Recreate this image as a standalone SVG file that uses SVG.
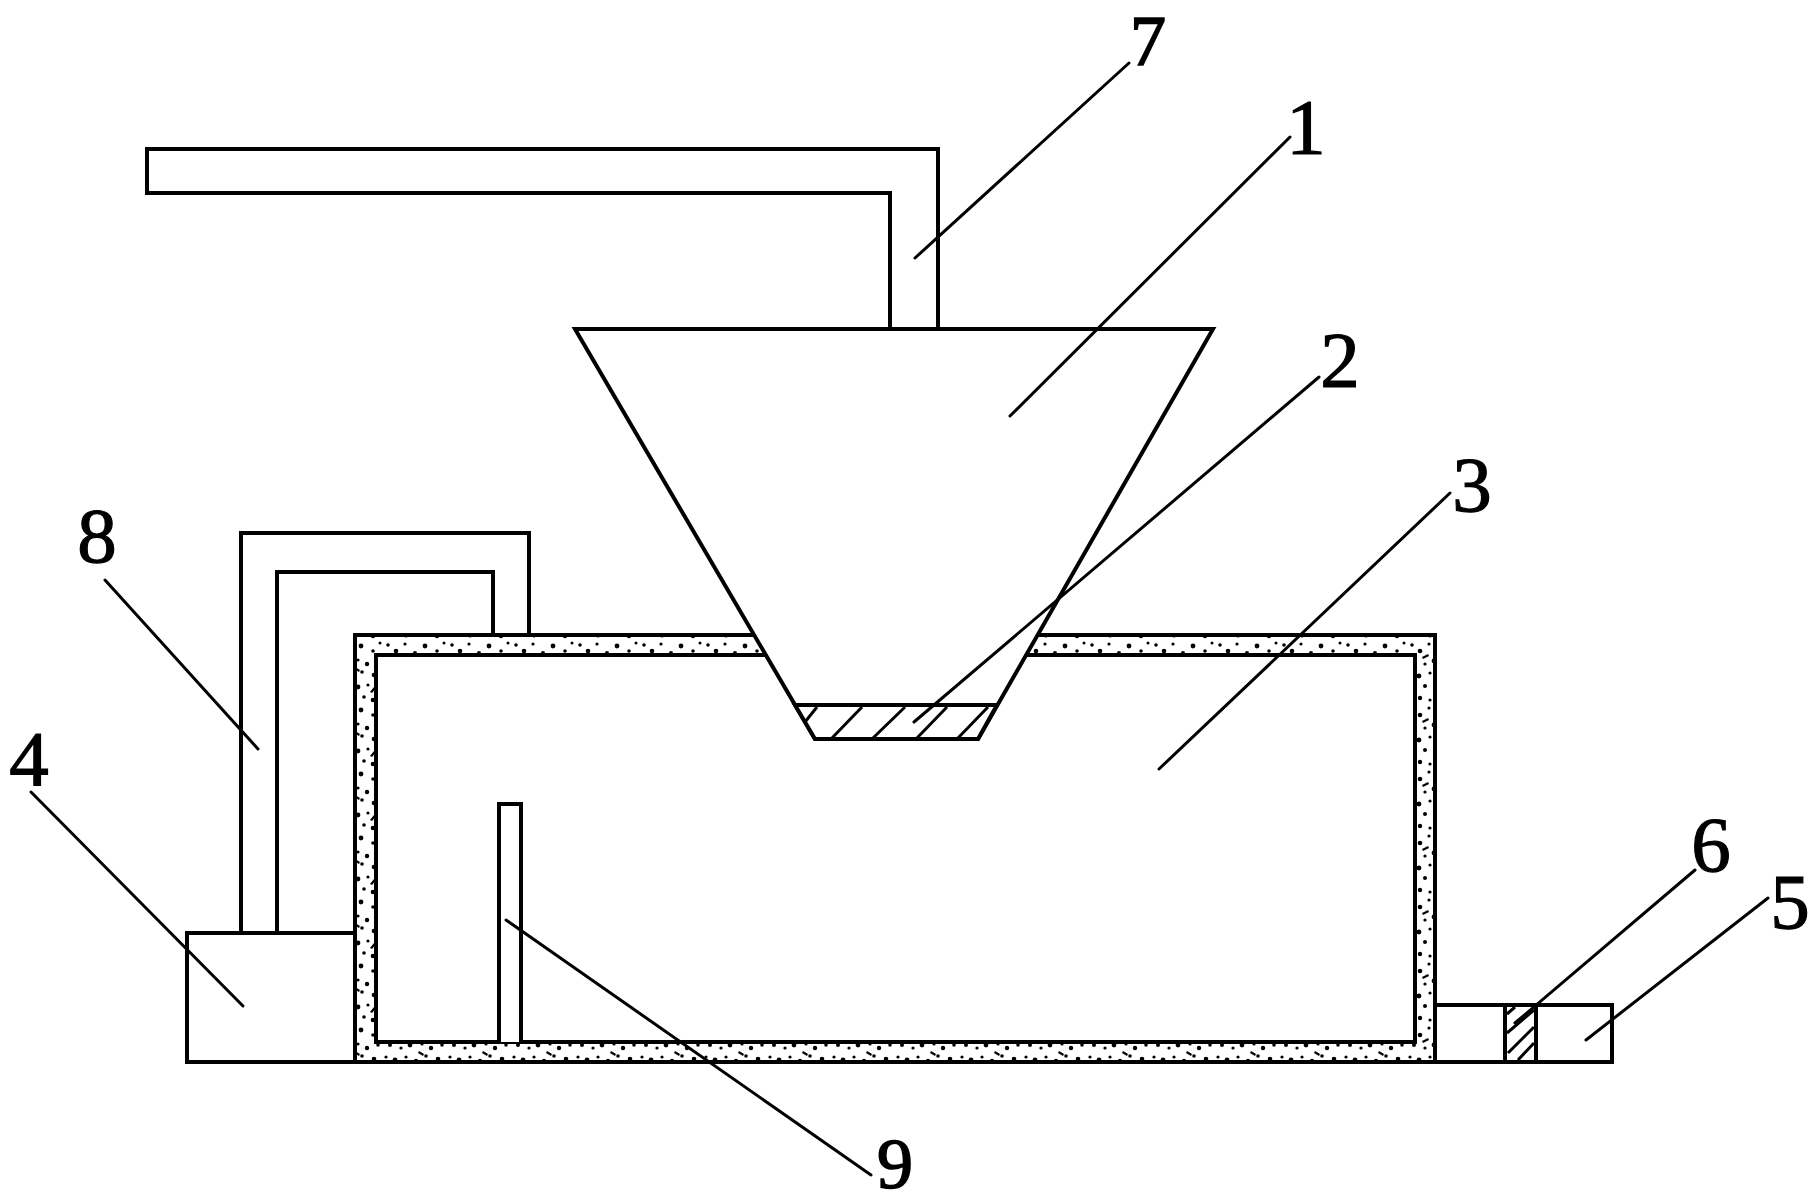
<svg xmlns="http://www.w3.org/2000/svg" width="1817" height="1204" viewBox="0 0 1817 1204">
<style>
.o{fill:none;stroke:#000;stroke-width:4;stroke-linejoin:miter}
.w{fill:#fff;stroke:#000;stroke-width:4}
.l{stroke:#000;stroke-width:3;fill:none;stroke-linecap:round}
.h{stroke:#000;stroke-width:3;fill:none}
.t{font-family:"Liberation Serif","Times New Roman",serif;font-size:79px;font-weight:400;fill:#000;stroke:#000;stroke-width:1.2;text-anchor:middle}
.s{font-size:72px;stroke-width:1.6}
</style>
<defs>
<pattern id="stipple" width="64" height="64" patternUnits="userSpaceOnUse">
<rect width="64" height="64" fill="#fff"/>
<g fill="#000">
<circle cx="4" cy="5" r="1.8"/><circle cx="12" cy="11" r="2.3"/><circle cx="21" cy="4" r="1.6"/><circle cx="31" cy="13" r="2"/><circle cx="41" cy="6" r="2.4"/><circle cx="53" cy="11" r="1.8"/><circle cx="60" cy="3" r="1.5"/>
<circle cx="6" cy="21" r="2"/><circle cx="17" cy="24" r="1.6"/><circle cx="26" cy="21" r="2.4"/><circle cx="38" cy="20" r="1.6"/><circle cx="47" cy="24" r="2.2"/><circle cx="58" cy="21" r="1.8"/>
<circle cx="2" cy="33" r="1.6"/><circle cx="11" cy="36" r="2.4"/><circle cx="22" cy="33" r="1.6"/><circle cx="32" cy="37" r="2.2"/><circle cx="42" cy="32" r="1.8"/><circle cx="54" cy="35" r="2.3"/>
<circle cx="6" cy="47" r="1.8"/><circle cx="17" cy="46" r="2"/><circle cx="27" cy="50" r="1.6"/><circle cx="38" cy="47" r="2.4"/><circle cx="48" cy="45" r="1.6"/><circle cx="60" cy="48" r="2"/>
<circle cx="12" cy="58" r="2.2"/><circle cx="22" cy="60" r="1.6"/><circle cx="33" cy="59" r="2"/><circle cx="44" cy="57" r="1.8"/><circle cx="53" cy="60" r="2.3"/>
<path d="M14 17l6-3 1 2-6 3zM35 27l5 3-1 2-5-3zM50 52l4-5 2 1-4 5zM2 55h6v2H2z"/>
</g>
</pattern>
</defs>
<rect width="1817" height="1204" fill="#fff"/>
<g id="node-7"><path class="o" d="M890 329V193H147V149H938V329"/></g>
<g id="node-8"><path class="o" d="M241 933V533H529V635M277 933V572H493V635"/></g>
<g id="node-4"><path class="o" d="M355 933H187V1062H355"/></g>
<g id="node-5"><path class="o" d="M1435 1005H1612V1062H1435"/></g>
<g id="node-6"><rect class="o" x="1505" y="1005" width="31" height="57"/>
<path class="h" d="M1507 1014L1515 1007M1507 1033L1534 1010M1508 1053L1534 1027M1518 1060L1534 1043"/></g>
<g id="node-3">
<rect x="355" y="635" width="1080" height="427" fill="url(#stipple)" stroke="#000" stroke-width="4"/>
<rect class="w" x="376" y="655" width="1039" height="387"/>
</g>
<g id="node-9"><path class="w" d="M499 1042V804H521V1042"/></g>
<g id="node-1"><path d="M575 329H1213L978 739H815Z" class="w"/></g>
<g id="node-2"><path class="w" d="M795 705H997L978 739H815Z"/>
<path class="h" d="M805 722L817 707M832 738L862 707M873 738L905 707M917 738L947 707M958 738L988 707"/></g>
<g id="connectors">
<path class="l" d="M915 258L1129 63"/>
<path class="l" d="M1010 416L1290 137"/>
<path class="l" d="M914 722L1319 377"/>
<path class="l" d="M1159 769L1450 493"/>
<path class="l" d="M31 792L243 1006"/>
<path class="l" d="M105 580L258 749"/>
<path class="l" d="M506 920L871 1175"/>
<path class="l" d="M1515 1023L1695 870"/>
<path class="l" d="M1586 1040L1768 898"/>
</g>
<g id="labels">
<text class="t s" x="1148" y="64.5">7</text>
<text class="t" x="1306" y="153">1</text>
<text class="t" x="1340" y="386">2</text>
<text class="t" x="1472" y="511">3</text>
<text class="t" x="29" y="785">4</text>
<text class="t" x="1790" y="928">5</text>
<text class="t" x="1711" y="871">6</text>
<text class="t" x="97" y="562">8</text>
<text class="t s" x="895" y="1188">9</text>
</g>
</svg>
